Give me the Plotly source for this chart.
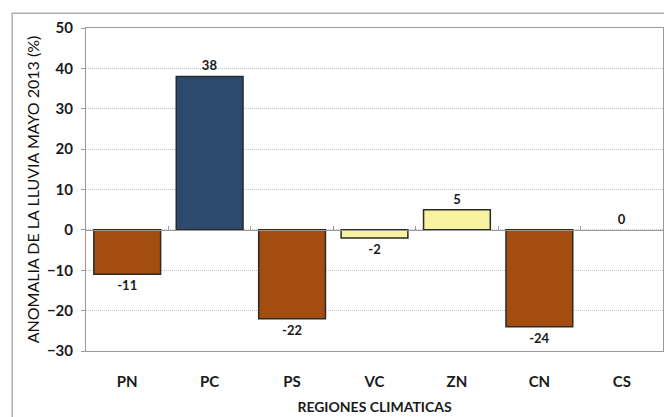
import plotly.graph_objects as go

regions = ['PN', 'PC', 'PS', 'VC', 'ZN', 'CN', 'CS']
anomalia = [-11, 38, -22, -2, 5, -24, 0]
y_ticks = [-30, -20, -10, 0, 10, 20, 30, 40, 50]

brown = '#A34E0E'
navy = '#2C4A6E'
pale = '#F7F3A0'


def bar_color(v):
    if v <= -10:
        return brown
    if v >= 10:
        return navy
    return pale


colors = [bar_color(v) for v in anomalia]
# sin contorno para la barra de valor cero
edge_w = [1.5 if v != 0 else 0 for v in anomalia]

fig = go.Figure()

fig.add_trace(go.Bar(
    x=regions, y=anomalia,
    marker=dict(color=colors, line=dict(color='#2a2a2a', width=edge_w)),
    text=[str(v) for v in anomalia],
    textposition='outside',
    cliponaxis=False,
    textfont=dict(family='Lato', size=13, color='#1a1a1a', weight='bold'),
    width=0.81,
    showlegend=False,
    hoverinfo='x+y',
))

# eje horizontal en cero con marcas entre categorias
fig.add_trace(go.Scatter(
    x=regions, y=[0] * len(regions), xaxis='x2',
    mode='lines', line=dict(color='rgba(0,0,0,0)'),
    showlegend=False, hoverinfo='skip',
))

fig.update_layout(
    width=664, height=417,
    margin=dict(l=86, r=1, t=28, b=66),
    paper_bgcolor='white', plot_bgcolor='white',
    font=dict(family='Lato', color='#1a1a1a'),
    xaxis=dict(
        type='category', categoryarray=regions, range=[-0.5, 6.5],
        showgrid=False, zeroline=False,
        showline=True, linecolor='#9a9a9a', linewidth=1, mirror=True,
        ticks='', ticklabelstandoff=17,
        tickfont=dict(size=15, weight='bold'),
        title=dict(text='REGIONES CLIMATICAS',
                   font=dict(size=14, weight='bold'), standoff=13),
    ),
    xaxis2=dict(
        type='category', categoryarray=regions, range=[-0.5, 6.5],
        overlaying='x', anchor='free', position=0.375,
        showgrid=False, zeroline=False, showticklabels=False,
        showline=True, linecolor='#9a9a9a', linewidth=1,
        ticks='inside', tickson='boundaries', ticklen=4, tickcolor='#9a9a9a',
    ),
    yaxis=dict(
        range=[-30, 50], tickvals=y_ticks,
        showgrid=True, gridcolor='#c4c4c4', griddash='1px,1px', gridwidth=1,
        zeroline=False,
        showline=True, linecolor='#9a9a9a', linewidth=1, mirror=True,
        ticks='outside', ticklen=4, tickcolor='#9a9a9a', ticklabelstandoff=5,
        tickfont=dict(size=15, weight='bold'),
        title=dict(text='ANOMALIA DE LA LLUVIA MAYO 2013 (%)',
                   font=dict(size=16, color='#111111'), standoff=3),
    ),
    shapes=[dict(
        type='rect', xref='paper', yref='paper',
        x0=-0.128, x1=1.2, y0=-0.3, y1=1.046,
        line=dict(color='#b0b0b0', width=1.5), layer='below',
    )],
)

# quitar el margen del body para que la figura ocupe la ventana exacta
fig.write_html('out.html', config={'displayModeBar': False},
               post_script="document.body.style.margin='0';")
